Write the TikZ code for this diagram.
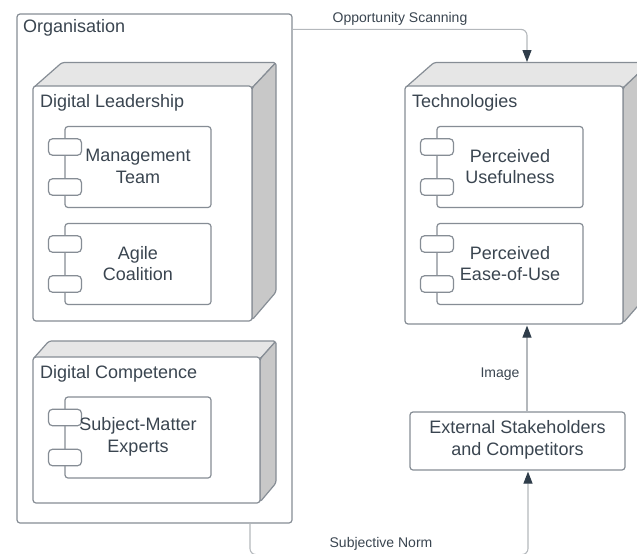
\documentclass[tikz,border=0pt]{standalone}
\usepackage{fontspec}
\setmainfont{Liberation Sans}
\usetikzlibrary{arrows.meta,calc}
\definecolor{edgecol}{HTML}{868D95}
\definecolor{linkcol}{HTML}{B4B8BC}
\definecolor{inkcol}{HTML}{3A4550}
\definecolor{headcol}{HTML}{2F3D4A}
\definecolor{topcol}{HTML}{E6E6E6}
\definecolor{sidecol}{HTML}{C8C8C8}
\tikzset{
  shell/.style={draw=edgecol,line width=1.2pt,rounded corners=3pt,fill=white,inner sep=0pt},
  facetop/.style={draw=edgecol,line width=1.2pt,rounded corners=2.5pt,fill=topcol,line join=round},
  faceside/.style={draw=edgecol,line width=1.2pt,rounded corners=2.5pt,fill=sidecol,line join=round},
  lbl/.style={text=inkcol,font=\fontsize{18}{21.5}\selectfont,align=center,inner sep=0pt},
  title/.style={lbl,anchor=west},
  linklbl/.style={text=inkcol,font=\fontsize{14}{16}\selectfont,inner sep=0pt},
  link/.style={draw=linkcol,line width=1.1pt,rounded corners=6pt,-{Triangle[length=12pt,width=9pt,color=headcol]}},
}
\newcommand{\compo}[4]{% name, centre x, centre y, text
  \node[shell,minimum width=146pt,minimum height=81pt] (#1) at (#2,#3) {};
  \node[shell,rounded corners=4pt,minimum width=33pt,minimum height=16.5pt] (#1a) at ($(#1.center)+(-73,-20)$) {};
  \node[shell,rounded corners=4pt,minimum width=33pt,minimum height=16.5pt] (#1b) at ($(#1.center)+(-73,20)$) {};
  \node[lbl] (#1t) at ($(#1.center)+(0,-0.5)$) {#4};
}
\begin{document}
\begin{tikzpicture}[x=1pt,y=-1pt]
\useasboundingbox (0,0) rectangle (637,554);
\begin{scope}
\clip (0,0) rectangle (637,554);

% Organisation
\node[shell,minimum width=275pt,minimum height=509pt] (org) at (154.5,268.5) {};
\node[title] (orgt) at (23,27.5) {Organisation};

% Digital Leadership
\draw[facetop] (33,88) -- (62,62.5) -- (276,62.5) -- (252,88) -- cycle;
\draw[faceside] (252,88) -- (276,62.5) -- (276,292) -- (252,320) -- cycle;
\node[shell,minimum width=219pt,minimum height=235pt] (lead) at (142.5,203.5) {};
\node[title] (leadt) at (40,103) {Digital Leadership};
\compo{mgmt}{138}{167}{Management\\Team}
\compo{agile}{138}{264}{Agile\\Coalition}

% Digital Competence
\draw[facetop] (33,359) -- (49,341) -- (276,341) -- (260,359) -- cycle;
\draw[faceside] (260,359) -- (276,341) -- (276,483) -- (260,502) -- cycle;
\node[shell,minimum width=227pt,minimum height=146pt] (comp) at (146.5,430) {};
\node[title] (compt) at (40,373.5) {Digital Competence};
\compo{sme}{138}{437.5}{Subject-Matter\\Experts}

% Technologies
\draw[facetop] (405,88) -- (434,62.5) -- (650,62.5) -- (623,88) -- cycle;
\draw[faceside] (623,88) -- (650,62.5) -- (650,292) -- (623,323) -- cycle;
\node[shell,minimum width=218pt,minimum height=238pt] (tech) at (514,205) {};
\node[title] (techt) at (412,103) {Technologies};
\compo{useful}{510}{167}{Perceived\\Usefulness}
\compo{ease}{510}{264}{Perceived\\Ease-of-Use}

% External
\node[shell,minimum width=215pt,minimum height=58pt] (ext) at (517.5,441) {};
\node[lbl] (extt) at (517.5,440) {External Stakeholders\\and Competitors};

% Connectors
\coordinate (scanin) at (527,62);
\draw[link] ($(org.north east)+(0,16)$) -| (scanin);
\draw[link] ($(ext.north)+(9.5,0)$) -- ($(tech.south)+(13,1)$);
\draw[link] ($(org.south)+(95.5,0)$) |- ($(ext.south)+(10.5,84)$) -- ($(ext.south)+(10.5,1)$);

% Connector labels
\node[linklbl] (scanl) at (400,18.5) {Opportunity Scanning};
\node[linklbl] (imgl) at (500,374.5) {Image};
\node[linklbl] (subl) at (381,543.5) {Subjective Norm};
\end{scope}
\end{tikzpicture}
\end{document}
